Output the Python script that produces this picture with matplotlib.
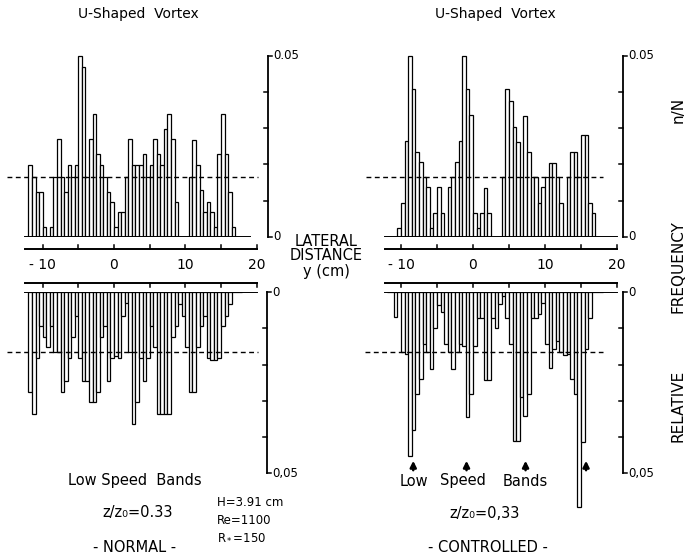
import numpy as np
import matplotlib.pyplot as plt

# lateral distance y (cm): left edges of the 0.5 cm histogram bins
bin_left = np.arange(-12.0, 18.0, 0.5)
mean_freq = 1 / 60  # dashed line: uniform level over the 60 bins

# relative frequency n/N
normal_vortex = [0.0198, 0.0165, 0.0125, 0.0125, 0.0028, 0.0, 0.0028, 0.0165, 0.027, 0.0165,
                 0.0125, 0.0198, 0.0165, 0.0198, 0.050, 0.0468, 0.0165, 0.027, 0.0338, 0.0228,
                 0.0198, 0.0165, 0.0125, 0.0097, 0.0028, 0.0068, 0.0068, 0.0165, 0.027, 0.0198,
                 0.0198, 0.0198, 0.0228, 0.0165, 0.0198, 0.0269, 0.0228, 0.0198, 0.0297, 0.0338,
                 0.0269, 0.0097, 0.0, 0.0, 0.0, 0.0165, 0.0267, 0.0198, 0.013, 0.0068,
                 0.0097, 0.0068, 0.0028, 0.0228, 0.0338, 0.0228, 0.0125, 0.0028, 0.0, 0.0]
normal_lowspeed = [0.0275, 0.0336, 0.0183, 0.0093, 0.0123, 0.0153, 0.0093, 0.0165, 0.0165, 0.0275,
                   0.0245, 0.0183, 0.0123, 0.0066, 0.0183, 0.0245, 0.0245, 0.0304, 0.0304, 0.0275,
                   0.0123, 0.0093, 0.0245, 0.0183, 0.0176, 0.0183, 0.0066, 0.0029, 0.0165, 0.0364,
                   0.0304, 0.0183, 0.0245, 0.0183, 0.0093, 0.0153, 0.0336, 0.0336, 0.0336, 0.0336,
                   0.0123, 0.0093, 0.0034, 0.0066, 0.0153, 0.0275, 0.0275, 0.0153, 0.0093, 0.0066,
                   0.0183, 0.0187, 0.0187, 0.0183, 0.0093, 0.0066, 0.0034, 0.0, 0.0, 0.0]
controlled_vortex = [0.0, 0.0, 0.0, 0.0024, 0.0095, 0.0266, 0.050, 0.0407, 0.0235, 0.0207,
                     0.0165, 0.0139, 0.0024, 0.0067, 0.0139, 0.0067, 0.0, 0.0139, 0.0165, 0.0207,
                     0.0266, 0.050, 0.0407, 0.0336, 0.0067, 0.0024, 0.0067, 0.0134, 0.0067, 0.0,
                     0.0, 0.0, 0.0165, 0.0407, 0.0376, 0.0304, 0.0263, 0.0165, 0.0334, 0.0235,
                     0.0165, 0.0165, 0.0095, 0.0137, 0.0165, 0.0205, 0.0205, 0.0165, 0.0095, 0.0,
                     0.0165, 0.0235, 0.0235, 0.0165, 0.028, 0.028, 0.0095, 0.0065, 0.0, 0.0]
controlled_lowspeed = [0.0, 0.0, 0.007, 0.0, 0.0165, 0.017, 0.0452, 0.0381, 0.0282, 0.0241,
                       0.0143, 0.0165, 0.0211, 0.0099, 0.0035, 0.0055, 0.0143, 0.0165, 0.0211, 0.0165,
                       0.0143, 0.015, 0.0344, 0.0282, 0.015, 0.0071, 0.0071, 0.0244, 0.0244, 0.0071,
                       0.0099, 0.0033, 0.0012, 0.0071, 0.0143, 0.0412, 0.0412, 0.029, 0.0342, 0.0282,
                       0.0071, 0.0071, 0.0062, 0.003, 0.0143, 0.0209, 0.0158, 0.0136, 0.0165, 0.0174,
                       0.0172, 0.0241, 0.0282, 0.0592, 0.0415, 0.0158, 0.0071, 0.0, 0.0, 0.0]

ruler_ticks = [-10, -5, 0, 5, 10, 15, 20]
ruler_labels = [-10, 0, 10, 20]
scale_ticks = [0.01, 0.02, 0.03, 0.04]
arrow_pos = [-8.3, -0.9, 7.3, 15.7]

W, H = 694, 560
PX = 3626.0  # pixels per unit of n/N
TOP0, BOT0 = 237, 292  # pixel rows of the zero lines

fig = plt.figure(figsize=(W / 100, H / 100), dpi=100)


def box(x0, x1, y0, y1):
    ax = fig.add_axes([x0 / W, 1 - y1 / H, (x1 - x0) / W, (y1 - y0) / H])
    ax.axis('off')
    return ax


def side(x0, zero_px, cm_px):
    lim = ((x0 - zero_px) / cm_px, (x0 + 340 - zero_px) / cm_px)
    ax_t = box(x0, x0 + 340, 40, TOP0)
    ax_t.set_xlim(lim)
    ax_t.set_ylim(0, (TOP0 - 40) / PX)
    ax_b = box(x0, x0 + 340, BOT0, 530)
    ax_b.set_xlim(lim)
    ax_b.set_ylim((530 - BOT0) / PX, 0)
    return ax_t, ax_b


def panel(ax, vals, span, dash, sbar, lab05):
    ax.bar(bin_left, vals, 0.5, align='edge', color='white', edgecolor='black',
           linewidth=0.9, zorder=2)
    ax.plot(span, [0, 0], color='black', lw=1.4, zorder=3)
    ax.plot(dash, [mean_freq] * 2, color='black', lw=1.0, dashes=(3.5, 2.5), zorder=4)
    ax.plot([sbar, sbar], [0, 0.05], color='black', lw=1.3, clip_on=False)
    for v in scale_ticks:
        ax.plot([sbar - 0.55, sbar], [v, v], color='black', lw=1.1, clip_on=False)
    for v in (0, 0.05):
        ax.plot([sbar, sbar + 0.55], [v, v], color='black', lw=1.1, clip_on=False)
    ax.text(sbar + 0.7, 0.05, lab05, ha='left', va='center', fontsize=8.5)
    ax.text(sbar + 0.7, 0, '0', ha='left', va='center', fontsize=8.5)


def ruler(ax, span, y_line, tick_dir, labels=False):
    ax.plot(span, [y_line, y_line], color='black', lw=1.4, clip_on=False)
    for t in ruler_ticks:
        ax.plot([t, t], [y_line, y_line + tick_dir * 4.5 / PX], color='black', lw=1.1,
                clip_on=False)
    if labels:
        for t in ruler_labels:
            txt = '- %d' % abs(t) if t < 0 else str(t)
            ax.text(t, -(265 - TOP0) / PX, txt, ha='center', va='center', fontsize=10)


# left side: NORMAL
lt, lb = side(0, 114, 7.13)
panel(lt, normal_vortex, [-12.5, 19.1], [-15.0, 20.2], 21.6, '0.05')
panel(lb, normal_lowspeed, [-12.5, 20.0], [-15.0, 20.2], 21.5, '0,05')
ruler(lt, [-12.5, 20.0], -(249 - TOP0) / PX, 1, labels=True)
ruler(lb, [-12.5, 20.0], -(BOT0 - 282.5) / PX, 1)

# right side: CONTROLLED
rt, rb = side(354, 473, 7.2)
panel(rt, controlled_vortex, [-12.2, 20.0], [-14.9, 18.1], 20.8, '0.05')
panel(rb, controlled_lowspeed, [-12.2, 20.0], [-15.0, 18.1], 20.8, '0,05')
ruler(rt, [-12.2, 20.0], -(249 - TOP0) / PX, 1, labels=True)
ruler(rb, [-12.2, 20.0], -(BOT0 - 282.5) / PX, 1)

for x in arrow_pos:
    rb.annotate('', xy=(x, (458 - BOT0) / PX), xytext=(x, (473 - BOT0) / PX),
                arrowprops=dict(arrowstyle='-|>', color='black', lw=1.8, mutation_scale=9),
                annotation_clip=False)


def ftext(x, y, s, **kw):
    kw.setdefault('ha', 'center')
    kw.setdefault('va', 'center')
    fig.text(x / W, 1 - y / H, s, **kw)


ftext(138, 14, 'U-Shaped  Vortex', fontsize=10)
ftext(495, 14, 'U-Shaped  Vortex', fontsize=10)

ftext(326, 241, 'LATERAL', fontsize=10.5)
ftext(326, 256, 'DISTANCE', fontsize=10.5)
ftext(326, 271, 'y (cm)', fontsize=10.5)

ftext(678, 406, 'RELATIVE', fontsize=11, rotation=90)
ftext(678, 267, 'FREQUENCY', fontsize=11, rotation=90)
ftext(678, 110, 'n/N', fontsize=11, rotation=90)

ftext(135, 481, 'Low Speed  Bands', fontsize=10.5)
ftext(414, 481, 'Low', fontsize=10.5)
ftext(463, 481, 'Speed', fontsize=10.5)
ftext(525, 481, 'Bands', fontsize=10.5)

ftext(138, 513, 'z/z\u2080=0.33', fontsize=10.5)
ftext(485, 513, 'z/z\u2080=0,33', fontsize=10.5)

ftext(217, 503, 'H=3.91 cm', fontsize=8.5, ha='left')
ftext(217, 520, 'Re=1100', fontsize=8.5, ha='left')
ftext(217, 537, 'R$_*$=150', fontsize=8.5, ha='left')

ftext(135, 548, '- NORMAL -', fontsize=10.5)
ftext(488, 548, '- CONTROLLED -', fontsize=10.5)

fig.savefig('out.png', dpi=100, facecolor='white')
